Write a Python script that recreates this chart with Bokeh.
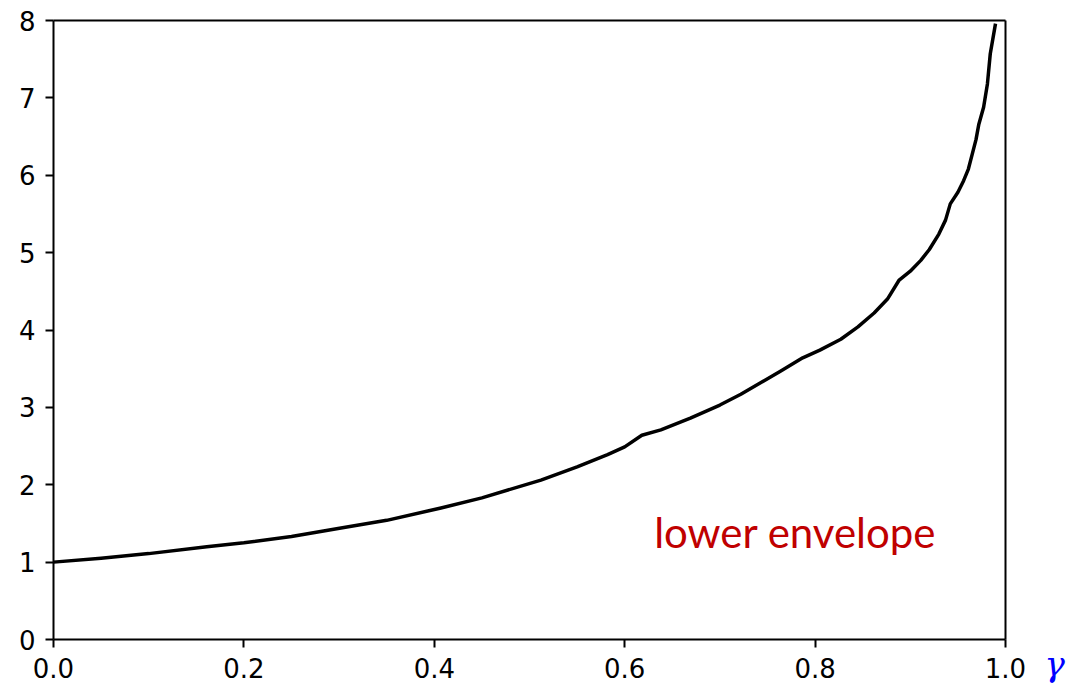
from bokeh.plotting import figure
from bokeh.models import Range1d, Label, FixedTicker, LinearAxis
from bokeh.embed import file_html
from bokeh.resources import INLINE

# data
gamma = [0.000, 0.050, 0.100, 0.161, 0.200, 0.250, 0.302, 0.350, 0.407, 0.450,
         0.512, 0.550, 0.582, 0.600, 0.618, 0.638, 0.669, 0.700, 0.722, 0.764,
         0.787, 0.805, 0.827, 0.845, 0.862, 0.876, 0.888, 0.900, 0.911, 0.920,
         0.930, 0.937, 0.942, 0.950, 0.956, 0.961, 0.965, 0.969, 0.972, 0.977,
         0.981, 0.984, 0.9895]
envelope = [1.00, 1.05, 1.11, 1.20, 1.25, 1.33, 1.44, 1.54, 1.70, 1.83,
            2.06, 2.23, 2.39, 2.49, 2.64, 2.71, 2.86, 3.03, 3.17, 3.47,
            3.64, 3.74, 3.88, 4.04, 4.22, 4.40, 4.64, 4.76, 4.90, 5.04,
            5.24, 5.42, 5.63, 5.78, 5.93, 6.08, 6.27, 6.46, 6.66, 6.88,
            7.18, 7.57, 7.96]
x_ticks = [0.0, 0.2, 0.4, 0.6, 0.8, 1.0]
y_ticks = [0, 1, 2, 3, 4, 5, 6, 7, 8]
x_min, x_max = 0.0, 1.0
y_min, y_max = 0, 8
annotation = "lower envelope"
x_label = "γ"

# The frame fills the whole canvas; the axes box is drawn by axes placed at
# fixed locations with bounds, so that every text (tick labels and the
# axis name "γ" right of the x axis) lies inside the frame and is not clipped.
W, H = 1082, 690
box_left, box_right, box_top, box_bottom = 53.0, 1005.0, 20.0, 639.0
sx = (x_max - x_min) / (box_right - box_left)
sy = (y_max - y_min) / (box_bottom - box_top)
x_range = Range1d(x_min - box_left * sx, x_max + (W - box_right) * sx)
y_range = Range1d(y_min - (H - box_bottom) * sy, y_max + box_top * sy)

p = figure(width=W, height=H, output_backend="svg", toolbar_location=None,
           x_range=x_range, y_range=y_range)
p.min_border = 0
p.xgrid.visible = False
p.ygrid.visible = False
p.outline_line_color = None
p.background_fill_color = "white"
p.border_fill_color = "white"

xa = p.xaxis[0]
ya = p.yaxis[0]
xa.fixed_location = y_min
xa.bounds = (x_min, x_max)
ya.fixed_location = x_min
ya.bounds = (y_min, y_max)

for ax in (xa, ya):
    ax.axis_line_width = 2
    ax.axis_line_color = "black"
    ax.major_tick_line_width = 2
    ax.major_tick_out = 8
    ax.major_tick_in = 0
    ax.minor_tick_line_color = None
    ax.major_label_text_font = "DejaVu Sans"
    ax.major_label_text_font_size = "26px"
    ax.major_label_text_color = "black"
    ax.major_label_standoff = 10

xa.ticker = FixedTicker(ticks=x_ticks)
ya.ticker = FixedTicker(ticks=y_ticks)
xa.major_label_overrides = {t: f"{t:.1f}" for t in x_ticks}

# top and right spines of the axes box
top_spine = LinearAxis(fixed_location=y_max, bounds=(x_min, x_max),
                       ticker=FixedTicker(ticks=[]), axis_line_width=2,
                       major_tick_line_color=None, minor_tick_line_color=None,
                       major_label_text_font_size="0px")
right_spine = LinearAxis(fixed_location=x_max, bounds=(y_min, y_max),
                         ticker=FixedTicker(ticks=[]), axis_line_width=2,
                         major_tick_line_color=None, minor_tick_line_color=None,
                         major_label_text_font_size="0px")
p.add_layout(top_spine, "above")
p.add_layout(right_spine, "right")

p.line(gamma, envelope, line_color="black", line_width=3.5, line_join="round")

p.add_layout(Label(x=0.631, y=1.383, text=annotation, text_color="#c00000",
                   text_font="Lato", text_font_size="42px",
                   text_baseline="alphabetic", text_align="left"))

p.add_layout(Label(x=1.041, y=-0.317, text=x_label, text_color="blue",
                   text_font="DejaVu Serif", text_font_style="italic",
                   text_font_size="34px", text_baseline="alphabetic",
                   text_align="left"))

open("out.html", "w").write(file_html(p, INLINE))
